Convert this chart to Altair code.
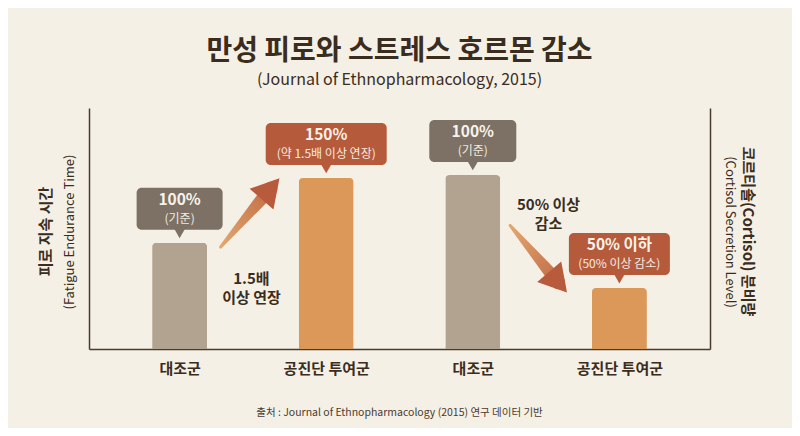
import json
import altair as alt
import pandas as pd

# ---------------- data ----------------
groups = ["대조군", "공진단 투여군", "대조군", "공진단 투여군"]
kinds = ["ctrl", "trt", "ctrl", "trt"]
fatigue = [100, 161]      # 피로 지속 시간 (left scale)
cortisol = [100, 35]      # 코르티솔 분비량 (right scale)
main_labels = ["100%", "150%", "100%", "50% 이하"]
sub_labels = ["(기준)", "(약 1.5배 이상 연장)", "(기준)", "(50% 이상 감소)"]
left_note = "1.5배\n이상 연장"
right_note = "50% 이상\n감소"
title_text = "만성 피로와 스트레스 호르몬 감소"
subtitle_text = "(Journal of Ethnopharmacology, 2015)"
left_title = "피로 지속 시간"
left_title_en = "(Fatigue Endurance Time)"
right_title = "코르티솔(Cortisol) 분비량"
right_title_en = "(Cortisol Secretion Level)"
source_text = "출처 : Journal of Ethnopharmacology (2015) 연구 데이터 기반"

# ---------------- style ----------------
FONT = "Noto Sans CJK KR"
BG = "#f5f0e6"
DARK = "#3b2c20"
AXIS = "#4a3b2e"
BAR_COLORS = ["#b1a38f", "#db9859"]
CALL_COLORS = {"ctrl": "#7c7164", "trt": "#b65a3c"}
CALL_WIDTHS = [86, 121, 87, 101]
W, H = 621, 241

xscale = alt.Scale(domain=[-0.584, 3.584], nice=False, zero=False)
xaxis = alt.Axis(
    values=[0, 1, 2, 3],
    labelExpr=json.dumps(groups, ensure_ascii=False) + "[datum.value]",
    title=None, ticks=False, grid=False, domainColor=AXIS, domainWidth=1.5,
    labelFont=FONT, labelFontSize=15, labelFontWeight="bold", labelColor=DARK,
    labelPadding=12, labelFlush=False,
)
X = alt.X("pos:Q", scale=xscale, axis=xaxis)


def y_enc(domain_max, orient, title, title_x, angle):
    return alt.Y(
        "v:Q",
        scale=alt.Scale(domain=[0, domain_max], nice=False, zero=True),
        axis=alt.Axis(
            orient=orient, labels=False, ticks=False, grid=False,
            domainColor=AXIS, domainWidth=1.5, title=title,
            titleX=title_x, titleY=123, titleAngle=angle, titleAlign="center",
            titleBaseline="middle", titleFont=FONT, titleFontSize=15,
            titleFontWeight="bold", titleColor=DARK,
        ),
    )


def group_layers(idx, values, Y, arrow, note, note_xy):
    df = pd.DataFrame({
        "pos": idx, "v": values, "kind": [kinds[i] for i in idx],
        "main": [main_labels[i] for i in idx], "sub": [sub_labels[i] for i in idx],
    })
    layers = [
        alt.Chart(df).mark_bar(size=55, cornerRadiusTopLeft=4, cornerRadiusTopRight=4).encode(
            x=X, y=Y,
            color=alt.Color("kind:N", scale=alt.Scale(domain=["ctrl", "trt"], range=BAR_COLORS), legend=None),
        )
    ]
    for j, i in enumerate(idx):
        d = df.iloc[[j]]
        col = CALL_COLORS[kinds[i]]
        w = CALL_WIDTHS[i]
        layers.append(alt.Chart(d).mark_rect(
            cornerRadius=5, color=col, xOffset=-w / 2, x2Offset=w / 2, yOffset=-13, y2Offset=-55
        ).encode(x=X, x2="pos:Q", y=Y, y2="v:Q"))
        layers.append(alt.Chart(d).mark_point(
            shape="triangle-down", filled=True, size=150, color=col, opacity=1, yOffset=-10
        ).encode(x=X, y=Y))
        layers.append(alt.Chart(d).mark_text(
            dy=-43, font=FONT, fontSize=15.5, fontWeight="bold", color="#f8f3ea"
        ).encode(x=X, y=Y, text="main:N"))
        layers.append(alt.Chart(d).mark_text(
            dy=-24, font=FONT, fontSize=12, color="#f3ebe0"
        ).encode(x=X, y=Y, text="sub:N"))
    # arrow
    (tx, ty), (hx, hy), angle, grad = arrow
    trail = pd.DataFrame({"pos": [tx, hx], "v": [ty, hy], "w": [3, 14], "o": [0, 1]})
    layers.append(alt.Chart(trail).mark_trail(color=grad).encode(
        x=X, y=Y, size=alt.Size("w:Q", scale=None, legend=None), order="o:Q"))
    head = pd.DataFrame({"pos": [hx], "v": [hy]})
    layers.append(alt.Chart(head).mark_point(
        shape="triangle-up", filled=True, size=1000, angle=angle, color="#b85a3c", opacity=1
    ).encode(x=X, y=Y))
    nd = pd.DataFrame({"pos": [note_xy[0]], "v": [note_xy[1]], "t": [note]})
    layers.append(alt.Chart(nd).mark_text(
        font=FONT, fontSize=15, fontWeight="bold", color=DARK, lineBreak="\n", lineHeight=19
    ).encode(x=X, y=Y, text="t:N"))
    return layers


def grad(x1, y1, x2, y2):
    return alt.LinearGradient(
        gradient="linear",
        stops=[alt.GradientStop(color="#e2aa72", offset=0), alt.GradientStop(color="#bf6440", offset=1)],
        x1=x1, y1=y1, x2=x2, y2=y2,
    )


YL = y_enc(227, "left", left_title, -44, 270)
YR = y_enc(138.5, "right", right_title, 37, 90)

left_layers = group_layers(
    [0, 1], fatigue, YL,
    ((0.28, fatigue[0] - 4), (1 - 0.38, fatigue[1] - 10), 41, grad(0, 1, 1, 0)),
    left_note, (0.49, 66),
)
right_layers = group_layers(
    [2, 3], cortisol, YR,
    ((2.255, 71), (3 - 0.418, cortisol[1] + 3.4), 139.5, grad(0, 0, 1, 1)),
    right_note, (2.517, 83),
)

txt = lambda s: pd.DataFrame({"t": [s]})
left_layers.append(alt.Chart(txt(left_title_en)).mark_text(
    angle=270, font=FONT, fontSize=13, color=DARK).encode(x=alt.value(-19), y=alt.value(124), text="t:N"))
left_layers.append(alt.Chart(txt(source_text)).mark_text(
    font=FONT, fontSize=10.5, color=AXIS).encode(x=alt.value(W / 2), y=alt.value(H + 64), text="t:N"))
right_layers.append(alt.Chart(txt(right_title_en)).mark_text(
    angle=90, font=FONT, fontSize=13, color=DARK).encode(x=alt.value(641), y=alt.value(124), text="t:N"))

left = alt.layer(*left_layers)
right = alt.layer(*right_layers)

chart = alt.layer(left, right).resolve_scale(y="independent").properties(
    width=W, height=H,
    autosize=alt.AutoSizeParams(type="none"),
    padding={"left": 81, "top": 100, "right": 82, "bottom": 79},
    title=alt.Title(
        text=title_text, subtitle=subtitle_text, anchor="middle",
        font=FONT, fontSize=28, fontWeight="bold", color=DARK,
        subtitleFont=FONT, subtitleFontSize=16, subtitleColor=DARK,
        subtitlePadding=6, offset=20,
    ),
).configure(background=BG).configure_view(stroke=None)

chart.save("out.html", embed_options={"renderer": "svg", "actions": False})
